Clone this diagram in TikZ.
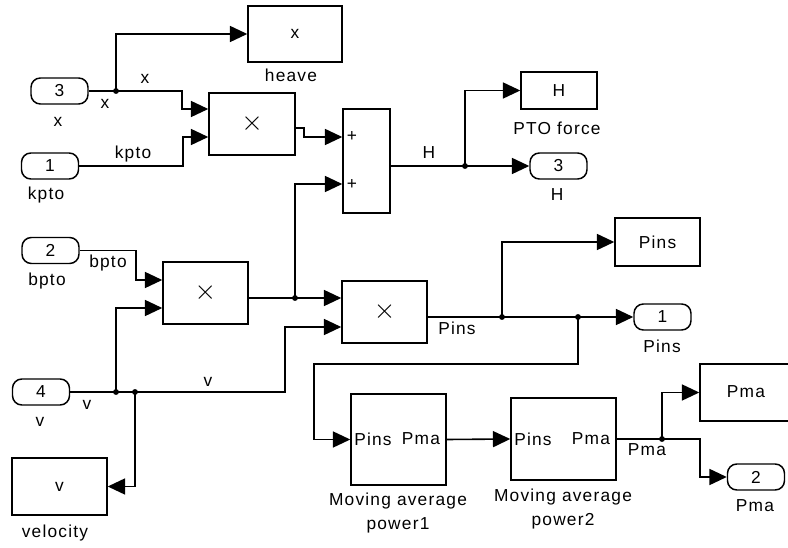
\documentclass[tikz,border=0pt]{standalone}
\usepackage{fontspec}
\setmainfont{Liberation Sans}[LetterSpace=7]
\usetikzlibrary{arrows.meta}
\newcommand{\bigx}{{\fontsize{20}{20}\selectfont$\times$}}
\tikzset{
  wire/.style={line width=1.2pt},
  sig/.style={wire, -{Triangle[length=13pt,width=12pt]}},
  blk/.style 2 args={draw, line width=1.1pt, minimum width=#1*0.75pt, minimum height=#2*0.75pt, inner sep=0pt},
  port/.style={draw, line width=1.1pt, rounded corners=7pt, minimum width=42.75pt, minimum height=19.5pt, inner sep=0pt},
  caption/.style={inner sep=0pt, align=center}
}
\begin{document}
\begin{tikzpicture}[x=0.75pt, y=-0.75pt, font=\fontsize{13}{18}\selectfont]
\useasboundingbox (0,0) rectangle (788,548);
% blocks
\node[blk={94}{56}] (heave) at (295,34) {x};
\node[blk={86}{62}] (prod1) at (252,124) {\bigx};
\node[blk={47}{104}] (sum) at (366.5,161) {};
\node[blk={76}{37}] (pto) at (559,90.5) {H};
\node[blk={85}{62}] (prod2) at (205.5,293) {\bigx};
\node[blk={85}{62}] (prod3) at (384.5,312) {\bigx};
\node[blk={85}{48}] (pins) at (657.5,242) {Pins};
\node[blk={95}{91}] (ma1) at (398.5,439.5) {};
\node[blk={105}{82}] (ma2) at (563.5,439) {};
\node[blk={95}{57}] (pma) at (747.5,392.5) {};
\node[blk={95}{57}] (velo) at (59.5,486.5) {v};
% in- and outports
\node[port] (in3) at (59.5,91) {3};
\node[port] (in1) at (50,166) {1};
\node[port] (in2) at (50.5,250.5) {2};
\node[port] (in4) at (41,392) {4};
\node[port] (out3) at (558.5,166) {3};
\node[port] (out1) at (662.5,317) {1};
\node[port] (out2) at (756,477) {2};
% ports and branch points
\path (prod1.west |- 0,109) coordinate (p1i1)
      (prod1.west |- 0,137) coordinate (p1i2)
      (prod1.east |- 0,128) coordinate (p1o)
      (sum.west |- 0,137) coordinate (si1)
      (sum.west |- 0,184) coordinate (si2)
      (sum.east |- 0,166) coordinate (so)
      (prod2.west |- 0,280) coordinate (p2i1)
      (prod2.west |- 0,308) coordinate (p2i2)
      (prod2.east |- 0,298) coordinate (p2o)
      (prod3.west |- 0,298) coordinate (p3i1)
      (prod3.west |- 0,327) coordinate (p3i2)
      (prod3.east |- 0,317) coordinate (p3o)
      (116,91) coordinate (jx)
      (116,392) coordinate (jv1)
      (135,392) coordinate (jv2)
      (295,298) coordinate (jp2)
      (465,166) coordinate (jh)
      (502,317) coordinate (jp1)
      (578,317) coordinate (jp3)
      (662,439) coordinate (jm);
% signal lines
\draw[wire] (in3.east) -- (jx);
\draw[sig] (jx) |- (heave.west);
\draw[sig] (jx) -- ++(66,0) |- (p1i1);
\draw[sig] (in1.east) -- ++(103.5,0) |- (p1i2);
\draw[sig] (p1o) -- ++(8,0) |- (si1);
\draw[sig] (jp2) |- (si2);
\draw[wire] (so) -- (jh);
\draw[sig] (jh) -- (out3.west);
\draw[sig] (jh) |- (pto.west);
\draw[sig] (in2.east) -- ++(56.5,0) |- (p2i1);
\draw[wire] (in4.east) -- (jv2);
\draw[sig] (jv2) -- ++(150,0) |- (p3i2);
\draw[sig] (jv1) |- (p2i2);
\draw[sig] (jv2) |- (velo.east);
\draw[wire] (p2o) -- (jp2);
\draw[sig] (jp2) -- (p3i1);
\draw[wire] (p3o) -- (jp3);
\draw[sig] (jp3) -- (out1.west);
\draw[sig] (jp1) |- (pins.west);
\draw[sig] (jp3) -- ++(0,47) -- ++(-264,0) |- (ma1.west);
\draw[sig] (ma1.east) -- (ma2.west);
\draw[wire] (ma2.east) -- (jm);
\draw[sig] (jm) -- ++(38,0) |- (out2.west);
\draw[sig] (jm) |- (pma.west);
\foreach \j in {jx,jv1,jv2,jp2,jh,jp1,jp3,jm}
  \fill (\j) circle (2.2pt);
% texts inside blocks
\node (plus1) at (352,137) {+};
\node (plus2) at (352,185) {+};
\node (ma1in) at (373,439) {Pins};
\node (ma1out) at (421,439) {Pma};
\node (ma2in) at (533,439) {Pins};
\node (ma2out) at (591,439) {Pma};
\node (pmatxt) at (746,392) {Pma};
% signal names
\node (sx1) at (105,104) {x};
\node (sx2) at (145,79) {x};
\node (skpto) at (133,154) {kpto};
\node (sH) at (429,153) {H};
\node (sbpto) at (108,263) {bpto};
\node (sv1) at (87,405) {v};
\node (sv2) at (208,382) {v};
\node (sPins) at (457,328) {Pins};
\node (sPma) at (647,450) {Pma};
% block names
\node[caption] (cheave) at (291,75) {heave};
\node[caption] (cpto) at (557,128) {PTO force};
\node[caption] (cout3) at (557,195) {H};
\node[caption] (cin3) at (58,122) {x};
\node[caption] (cin1) at (46,195) {kpto};
\node[caption] (cin2) at (47,281) {bpto};
\node[caption] (cin4) at (40,422) {v};
\node[caption] (cvelo) at (55,533) {velocity};
\node[caption] (cout1) at (662,346) {Pins};
\node[caption] (cout2) at (755,506) {Pma};
\node[caption] (cma1) at (398,513) {Moving average\\power1};
\node[caption] (cma2) at (563,509.5) {Moving average\\power2};
\end{tikzpicture}
\end{document}
